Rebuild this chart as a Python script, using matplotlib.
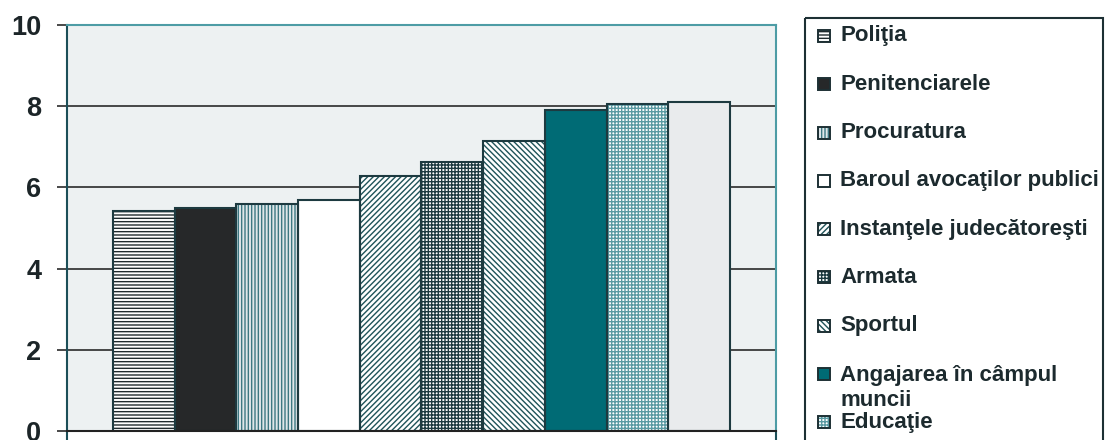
import matplotlib
matplotlib.use("Agg")
import matplotlib.pyplot as plt
from matplotlib.patches import Rectangle

# Average trust score per institution (0-10 scale)
labels = ["Poliţia", "Penitenciarele", "Procuratura", "Baroul avocaţilor publici",
          "Instanţele judecătoreşti", "Armata", "Sportul",
          "Angajarea în câmpul\nmuncii", "Educaţie"]
values = [5.43, 5.50, 5.58, 5.68, 6.27, 6.63, 7.15, 7.90, 8.06, 8.10]
yticks = [0, 2, 4, 6, 8, 10]

# fill colour, hatch pattern, hatch colour for each bar
styles = [
    ("#ffffff", "-----", "#1f2a2d"),
    ("#262829", "", "#262829"),
    ("#dfe7e9", "|||||", "#3c7882"),
    ("#ffffff", "", "#ffffff"),
    ("#ffffff", "//////", "#1f5359"),
    ("#ffffff", "+++++", "#1c3a40"),
    ("#ffffff", "\\\\\\\\\\\\", "#1f5359"),
    ("#006b75", "", "#006b75"),
    ("#ffffff", "+++++", "#5a9aa2"),
    ("#e9ebed", "", "#e9ebed"),
]

plt.rcParams["font.family"] = ["Liberation Sans", "DejaVu Sans"]
plt.rcParams["hatch.linewidth"] = 1.0

W, H = 1109, 440
fig = plt.figure(figsize=(W / 100, H / 100), dpi=100, facecolor="white")
ax = fig.add_axes([67 / W, 1 - 431 / H, (776 - 67) / W, (431 - 25) / H])
ax.set_facecolor("#edf1f2")

x = list(range(len(values)))
bars = ax.bar(x, values, width=1.0, linewidth=0, zorder=2)
for patch, (fc, hatch, hc) in zip(bars, styles):
    patch.set_facecolor(fc)
    patch.set_edgecolor(hc)
    if hatch:
        patch.set_hatch(hatch)
ax.bar(x, values, width=1.0, fill=False, edgecolor="#1d3a40", linewidth=1.5, zorder=3)

x0, x1 = -1.245, len(values) - 1 + 1.245
ax.set_xlim(x0, x1)
ax.set_ylim(0, 10)
ax.set_yticks(yticks)
ax.set_yticklabels([str(t) for t in yticks], fontsize=19.5, fontweight="bold", color="#1c2528")
ax.tick_params(axis="y", length=7.5, width=1.2, color="#2a2a2a", pad=11)
ax.set_xticks([x0, x1])
ax.set_xticklabels(["", ""])
ax.tick_params(axis="x", length=7, width=1.5, color="#1c4f58")

ax.set_axisbelow(True)
ax.yaxis.grid(True, color="#2a2a2a", linewidth=1.2)
ax.spines["left"].set_color("#1c4f58")
ax.spines["bottom"].set_color("#222222")
ax.spines["top"].set_color("#4d9ca5")
ax.spines["right"].set_color("#4d9ca5")
for s in ax.spines.values():
    s.set_linewidth(1.5)
    s.set_zorder(4)

# Legend panel drawn in pixel coordinates
lax = fig.add_axes([0, 0, 1, 1])
lax.set_xlim(0, W)
lax.set_ylim(H, 0)
lax.axis("off")
lax.add_patch(Rectangle((805, 18), 298, 440, fill=False, edgecolor="#1d3034", linewidth=1.5))

row0, step, line_px = 36, 48.3, 28
for i, (lab, (fc, hatch, hc)) in enumerate(zip(labels, styles)):
    yc = row0 + i * step
    sq = Rectangle((818, yc - 6), 12, 12, facecolor=fc, edgecolor=hc, linewidth=0,
                   hatch=hatch if hatch else None)
    lax.add_patch(sq)
    lax.add_patch(Rectangle((818, yc - 6), 12, 12, fill=False, edgecolor="#1d3034", linewidth=1.4))
    n = lab.count("\n") + 1
    lax.text(840, yc + (n - 1) * line_px / 2, lab, fontsize=16, fontweight="bold",
             color="#1c2a2e", va="center", ha="left", linespacing=1.25)

fig.savefig("out.png", dpi=100, facecolor="white")
